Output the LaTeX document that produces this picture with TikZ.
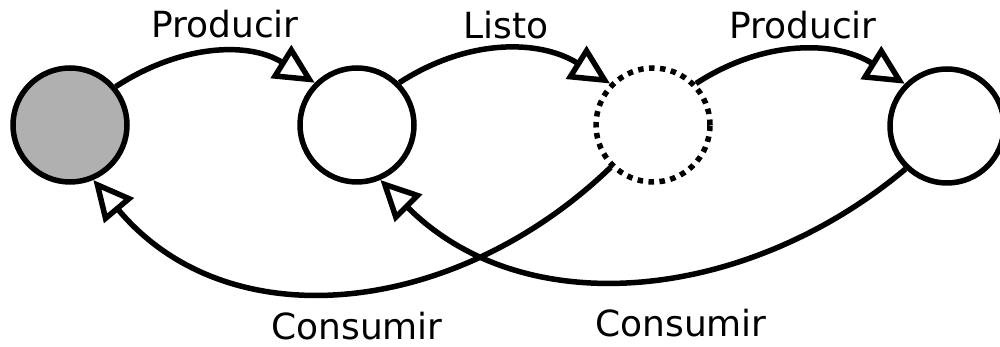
\documentclass[tikz,border=0pt]{standalone}
\usepackage{fontspec}
\setmainfont{DejaVu Sans}
\usetikzlibrary{arrows.meta}
\definecolor{stategray}{RGB}{176,176,176}
\begin{document}
\begin{tikzpicture}[x=1pt,y=1pt,
  state/.style={circle,draw=black,line width=5.5pt,minimum size=114pt,inner sep=0pt,fill=white},
  conn/.style={line width=5.5pt,-{Triangle[length=40pt,width=38pt,fill=white,line join=miter]}},
  lbl/.style={font=\fontsize{36}{40}\selectfont,anchor=base,inner sep=0pt}]
\useasboundingbox (0,0) rectangle (1000,347);
\node[state,fill=stategray] (s0) at (70,222) {};
\node[state] (s1) at (357,222) {};
\node[state,draw=none] (s2) at (653,222) {};
\draw[line width=5.5pt,dash pattern=on 5.5pt off 5.5pt] (s2.center) circle (57pt);
\node[state] (s3) at (947,221) {};
\draw[conn] (s0.40) to[out=33,in=148] (s1.135);
\draw[conn] (s1.45) to[out=33,in=148] (s2.136);
\draw[conn] (s2.44) to[out=33,in=148] (s3.135);
\draw[conn] (s2.225) to[out=224,in=310,looseness=1.05] (s0.293);
\draw[conn] (s3.226) to[out=220,in=315] (s1.293);
\node[lbl] (p1) at (225,309) {Producir};
\node[lbl] (l1) at (506,308) {Listo};
\node[lbl] (p2) at (803,308) {Producir};
\node[lbl] (c1) at (357,7) {Consumir};
\node[lbl] (c2) at (681,10) {Consumir};
\end{tikzpicture}
\end{document}
